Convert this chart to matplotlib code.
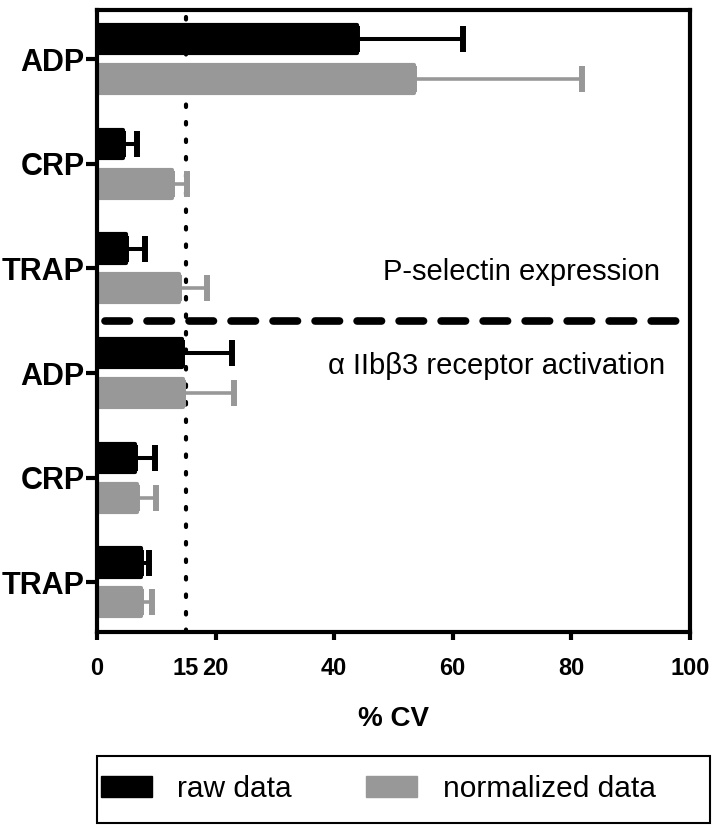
import numpy as np
import matplotlib.pyplot as plt
from matplotlib.patches import Patch, Rectangle

agonists = ["ADP", "CRP", "TRAP", "ADP", "CRP", "TRAP"]
raw_cv = [43.8, 4.4, 4.9, 14.3, 6.4, 7.4]
raw_err = [18.0, 2.3, 3.2, 8.5, 3.4, 1.4]
norm_cv = [53.5, 12.6, 13.8, 14.5, 6.7, 7.4]
norm_err = [28.3, 2.6, 4.7, 8.6, 3.2, 1.9]
xticks = [0, 20, 40, 60, 80, 100]
threshold = 15

plt.rcParams['font.family'] = ['Liberation Sans', 'DejaVu Sans']

fig = plt.figure(figsize=(7.14, 8.3), dpi=100)
ax = fig.add_axes([0.136, 0.239, 0.83, 0.749])

y = np.arange(len(agonists))
off = 0.19
h = 0.27
z = np.zeros(len(agonists))
grey = '#989898'
ax.barh(y - off, raw_cv, height=h, color='black', edgecolor='black', linewidth=3,
        joinstyle='round', label='raw data')
ax.barh(y + off, norm_cv, height=h, color=grey, edgecolor=grey, linewidth=3,
        joinstyle='round', label='normalized data')
ax.errorbar(raw_cv, y - off, xerr=[z, raw_err], fmt='none', ecolor='black',
            elinewidth=2.9, capsize=9.5, capthick=4.3)
ax.errorbar(norm_cv, y + off, xerr=[z, norm_err], fmt='none', ecolor=grey,
            elinewidth=2.6, capsize=9.5, capthick=4.3)

ax.axvline(threshold, color='black', linestyle=(0, (0.6, 3.6)), linewidth=3,
           dash_capstyle='round', zorder=0)
ax.plot([1.3, 100], [2.5, 2.5], color='black', linestyle=(0, (3.2, 2.3)), linewidth=5.5,
        dash_capstyle='round', clip_on=False)

ax.set_xlim(0, 100)
ax.set_ylim(5.47, -0.47)
ax.set_yticks(y)
ax.set_yticklabels(agonists, fontsize=22, fontweight='bold')
ax.set_xticks(xticks)
ax.set_xticklabels([str(t) for t in xticks], fontsize=17, fontweight='bold')
ax.annotate(str(threshold), xy=(threshold, 0), xycoords=ax.get_xaxis_transform(),
            xytext=(0, -26.5), textcoords='offset points', ha='center', va='center',
            fontsize=17, fontweight='bold')
ax.tick_params(axis='y', width=3, length=8, pad=1)
ax.tick_params(axis='x', width=3, length=6, pad=12)
for s in ax.spines.values():
    s.set_linewidth(3)
ax.set_xlabel('% CV', fontsize=20, fontweight='bold', labelpad=19)

ax.text(95, 2.03, 'P-selectin expression', ha='right', va='center', fontsize=21)
ax.text(95.8, 2.93, 'α IIbβ3 receptor activation', ha='right', va='center', fontsize=21)

# legend box
fig.patches.append(Rectangle((97 / 714, 7 / 830), 613 / 714, 67 / 830, transform=fig.transFigure,
                             facecolor='none', edgecolor='black', linewidth=1.5))
handles = [Patch(facecolor='black', edgecolor='black', joinstyle='round'),
           Patch(facecolor=grey, edgecolor=grey, joinstyle='round')]
fig.legend(handles, ['raw data', 'normalized data'], loc='center left',
           bbox_to_anchor=(101 / 714, 41 / 830), ncol=2, fontsize=21.5, frameon=False,
           handlelength=1.7, handleheight=0.7, handletextpad=0.85, columnspacing=2.5,
           borderpad=0, borderaxespad=0)

fig.savefig('out.png', dpi=100)
